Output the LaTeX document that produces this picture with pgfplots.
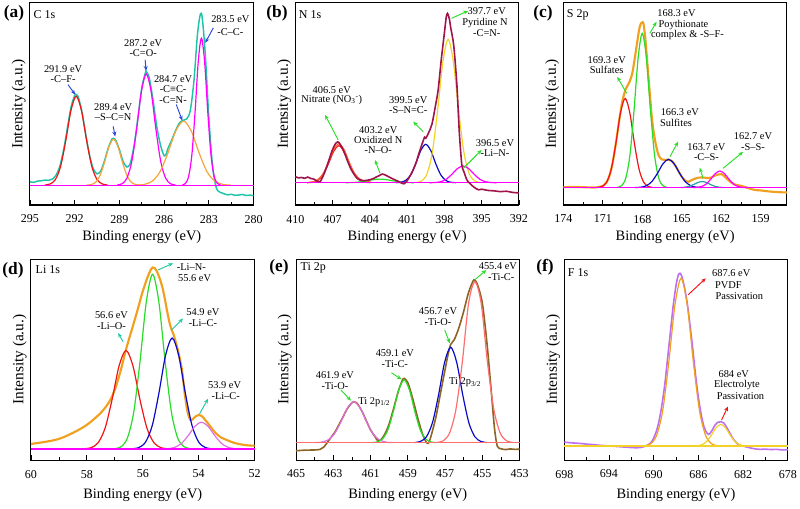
\documentclass[border=0pt]{standalone}
\usepackage{fontspec}
\setmainfont{Liberation Serif}
\usepackage{pgfplots}
\pgfplotsset{compat=1.18}
\usetikzlibrary{arrows.meta}
\definecolor{cteal}{RGB}{30,196,168}
\definecolor{cred}{RGB}{240,20,20}
\definecolor{corange}{RGB}{245,165,60}
\definecolor{cmag}{RGB}{255,0,255}
\definecolor{cblueA}{RGB}{40,70,220}
\definecolor{cmaroon}{RGB}{160,20,75}
\definecolor{cgreen}{RGB}{40,220,40}
\definecolor{cblue}{RGB}{10,10,200}
\definecolor{cyellow}{RGB}{240,210,40}
\definecolor{corange2}{RGB}{240,160,30}
\definecolor{cteal2}{RGB}{40,160,160}
\definecolor{cviolet}{RGB}{225,110,225}
\definecolor{cbrown}{RGB}{140,100,35}
\definecolor{csalmon}{RGB}{255,110,110}
\definecolor{cpurple}{RGB}{190,110,240}
\definecolor{carrD}{RGB}{30,200,160}
\definecolor{cnred}{RGB}{255,96,48}
\tikzset{
  ann/.style={font=\fontsize{7.8}{9}\selectfont, inner sep=0pt},
  annw/.style={ann, anchor=west},
  arr/.style={-{Stealth[length=3.6pt,width=3pt]}, line width=0.7pt},
  plab/.style={font=\bfseries\fontsize{13}{14}\selectfont, inner sep=0pt},
  elab/.style={font=\fontsize{9}{10}\selectfont, inner sep=0pt, anchor=west},
}
\pgfplotsset{
  xps/.style={
    scale only axis, width=167.7pt, clip=false,
    x dir=reverse, ymin=0, ymax=100, ytick=\empty,
    xtick pos=left, tick align=inside,
    minor x tick num=1,
    major tick length=3.6pt, minor tick length=2.2pt,
    every tick/.style={black, line width=0.6pt},
    axis line style={line width=0.75pt},
    xticklabel style={font=\fontsize{9}{10}\selectfont, yshift=-4pt},
    /pgf/number format/assume math mode=true,
    xlabel={Binding energy (eV)}, ylabel={Intensity (a.u.)},
    xlabel style={font=\fontsize{10.8}{12}\selectfont, at={(rel axis cs:0.5,-0.158)}, anchor=center},
    ylabel style={font=\fontsize{11.5}{12}\selectfont, at={(rel axis cs:-0.05,0.5)}, anchor=center},
    every axis plot/.append style={line width=0.9pt, smooth, no markers},
  },
  toprow/.style={height=151.7pt},
  botrow/.style={height=150.75pt, xlabel style={at={(rel axis cs:0.5,-0.174)}}},
}
\begin{document}
\begin{tikzpicture}
\useasboundingbox (0,0) rectangle (600pt,381pt);

% ---------------- (a) C 1s
\begin{axis}[xps, toprow, at={(22.5pt,227.25pt)}, anchor=south west,
  xmin=280, xmax=295, xtick={280,283,...,295}]
\addplot[cteal, line width=1.1pt] coordinates {(295,11.5)(294.75,11.2)(294.5,11.8)(294.25,12.0)(294,12.3)(293.75,12.2)(293.5,12.8)(293.25,14.8)(293,19.2)(292.75,27.1)(292.5,37.7)(292.25,48.3)(292,54.2)(291.9,54.6)(291.75,53.2)(291.5,45.4)(291.25,34.5)(291,24.5)(290.75,17.8)(290.5,15.4)(290.25,16.9)(290,21.9)(289.75,28.2)(289.5,32.6)(289.4,33)(289.25,32)(289,27.3)(288.75,21.4)(288.5,18.8)(288.35,19.5)(288.25,21.1)(288,30.1)(287.75,43.8)(287.5,58)(287.25,65.6)(287.2,66)(287,62.9)(286.75,52)(286.5,39)(286.25,29.8)(286,24.3)(285.85,25.5)(285.75,27.9)(285.5,32)(285.25,36.5)(285,40.3)(284.75,41.9)(284.5,42.5)(284.25,46.6)(284,61.5)(283.75,85.5)(283.5,94.8)(283.25,75.5)(283,42.8)(282.75,19)(282.5,8.5)(282.25,6.3)(282,5.6)(281.75,5.0)(281.5,5.3)(281.25,4.8)(281,4.9)(280.75,5.2)(280.5,4.7)(280.25,4.9)(280,4.6)};
\addplot[cred] coordinates {(294.0,9.9)(293.65,10.4)(293.3,12.55)(292.95,19.0)(292.6,31.8)(292.25,46.8)(291.9,53.8)(291.55,46.8)(291.2,31.8)(290.85,19.0)(290.5,12.55)(290.15,10.4)(289.8,9.9)};
\addplot[corange] coordinates {(291.2,9.85)(290.9,10.1)(290.6,11.2)(290.3,14.6)(290.0,21.15)(289.7,28.9)(289.4,32.5)(289.1,28.9)(288.8,21.15)(288.5,14.6)(288.2,11.2)(287.9,10.1)(287.6,9.85)};
\addplot[cmag] coordinates {(289.15,9.9)(288.825,10.5)(288.5,13.25)(288.175,21.35)(287.85,37.3)(287.525,56.1)(287.2,64.8)(286.875,56.1)(286.55,37.3)(286.225,21.35)(285.9,13.25)(285.575,10.5)(285.25,9.9)};
\addplot[corange] coordinates {(287.85,9.85)(287.325,10.2)(286.8,11.8)(286.275,16.45)(285.75,25.65)(285.225,36.5)(284.7,41.5)(284.175,36.5)(283.65,25.65)(283.125,16.45)(282.6,11.8)(282.075,10.2)(281.55,9.85)};
\addplot[cmag] coordinates {(284.775,9.95)(284.5625,10.75)(284.35,14.35)(284.1375,25.1)(283.925,46.15)(283.7125,70.9)(283.5,82.5)(283.2875,70.9)(283.075,46.15)(282.8625,25.1)(282.65,14.35)(282.4375,10.75)(282.225,9.95)};
\addplot[cmag, line width=1pt] coordinates {(295,9.8)(280,9.8)};
\node[elab] at (rel axis cs:0.015,0.94) {C 1s};
\node[ann] at (rel axis cs:0.148,0.674) {291.9 eV};
\node[ann] at (rel axis cs:0.148,0.620) {-C–F-};
\draw[arr, cblueA] (rel axis cs:0.170,0.595) -- (rel axis cs:0.202,0.546);
\node[ann] at (rel axis cs:0.372,0.482) {289.4 eV};
\node[ann] at (rel axis cs:0.372,0.433) {–S–C=N};
\draw[arr, cblueA] (rel axis cs:0.372,0.389) -- (rel axis cs:0.381,0.339);
\node[ann] at (rel axis cs:0.506,0.802) {287.2 eV};
\node[ann] at (rel axis cs:0.506,0.753) {-C=O-};
\draw[arr, cblueA] (rel axis cs:0.515,0.718) -- (rel axis cs:0.519,0.664);
\node[ann] at (rel axis cs:0.640,0.620) {284.7 eV};
\node[ann] at (rel axis cs:0.640,0.571) {-C≡C-};
\node[ann] at (rel axis cs:0.640,0.521) {-C=N-};
\draw[arr, cblueA] (rel axis cs:0.654,0.497) -- (rel axis cs:0.681,0.418);
\node[ann] at (rel axis cs:0.896,0.920) {283.5 eV};
\node[ann] at (rel axis cs:0.896,0.856) {-C–C-};
\draw[arr, cblueA] (rel axis cs:0.820,0.876) -- (rel axis cs:0.784,0.802);
\end{axis}

% ---------------- (b) N 1s
\begin{axis}[xps, toprow, at={(221.5pt,227.25pt)}, anchor=south west,
  xmin=392, xmax=410, xtick={392,395,...,410}]
\addplot[cred] coordinates {(409.05,11.04)(408.625,11.24)(408.2,12.14)(407.775,14.85)(407.35,20.15)(406.925,26.4)(406.5,29.3)(406.075,26.4)(405.65,20.15)(405.225,14.85)(404.8,12.14)(404.375,11.24)(403.95,11.04)};
\addplot[cnred] coordinates {(409.05,11.1)(408.625,11.4)(408.2,12.5)(407.775,15.4)(407.35,20.9)(406.925,27.3)(406.5,30.3)(406.075,27.4)(405.65,21.0)(405.225,15.6)(404.8,12.8)(404.375,11.8)(403.95,11.5)};
\addplot[cgreen] coordinates {(405.95,11.02)(405.4,11.11)(404.85,11.38)(404.3,11.9)(403.75,12.51)(403.2,12.8)(402.65,12.51)(402.1,11.9)(401.55,11.38)(401.0,11.11)(400.45,11.02)};
\addplot[cblue] coordinates {(401.9,11.04)(401.5,11.25)(401.1,12.19)(400.7,15)(400.3,20.5)(399.9,27)(399.5,30)(399.1,27)(398.7,20.5)(398.3,15)(397.9,12.19)(397.5,11.25)(397.1,11.04)};
\addplot[cyellow] coordinates {(400.25,11.14)(399.825,11.93)(399.4,15.43)(398.975,25.9)(398.55,46.45)(398.125,70.6)(397.7,81.9)(397.275,70.6)(396.85,46.45)(396.425,25.9)(396.0,15.43)(395.575,11.93)(395.15,11.14)};
\addplot[cmag] coordinates {(399.2,11.02)(398.75,11.11)(398.3,11.52)(397.85,12.74)(397.4,15.15)(396.95,18.0)(396.5,19.3)(396.05,18.0)(395.6,15.15)(395.15,12.74)(394.7,11.52)(394.25,11.11)(393.8,11.02)};
\addplot[cmag, line width=1pt] coordinates {(410,11)(392,11)};
\addplot[cmaroon, line width=1.2pt, tension=0.4] coordinates {(410,14.0)(409.75,13.4)(409.5,13.6)(409.25,13.2)(409,13.8)(408.75,13.1)(408.5,12.8)(408.25,11.8)(408,11.6)(407.75,14.5)(407.5,18.5)(407.25,23)(407,27.5)(406.75,30.5)(406.6,31.2)(406.5,31)(406.25,28.5)(406,25)(405.75,21)(405.5,17.5)(405.25,15)(405,13)(404.75,12.3)(404.5,12.0)(404.25,12.2)(404,12.5)(403.75,13.0)(403.5,13.8)(403.25,14.5)(403,15.3)(402.75,14.8)(402.5,14.0)(402.25,13.2)(402,12.5)(401.75,11.8)(401.5,11.0)(401.25,10.5)(401,12)(400.75,14.5)(400.5,17.6)(400.25,21.5)(400,26.5)(399.75,31)(399.6,33.5)(399.5,33)(399.25,36)(399,40)(398.75,48)(398.5,57)(398.25,72)(398,85)(397.85,93)(397.75,94.7)(397.6,92)(397.5,88)(397.25,79)(397,60)(396.8,36)(396.6,20)(396.4,16)(396.2,12.5)(396,11)(395.75,9.5)(395.5,8.3)(395.25,7.5)(395,7.8)(394.5,7.2)(394,7.0)(393.5,6.6)(393,6.8)(392.5,6.2)(392,6.0)};
\node[elab] at (rel axis cs:0.015,0.94) {N 1s};
\node[ann] at (rel axis cs:0.856,0.956) {397.7 eV};
\node[ann] at (rel axis cs:0.848,0.898) {Pyridine N};
\node[ann] at (rel axis cs:0.856,0.849) {-C=N-};
\draw[arr, cgreen] (rel axis cs:0.699,0.923) -- (rel axis cs:0.773,0.960);
\node[ann] at (rel axis cs:0.163,0.568) {406.5 eV};
\node[ann] at (rel axis cs:0.163,0.519) {Nitrate (NO\textsubscript{3}\textsuperscript{-})};
\draw[arr, cgreen] (rel axis cs:0.192,0.321) -- (rel axis cs:0.133,0.445);
\node[ann] at (rel axis cs:0.371,0.371) {403.2 eV};
\node[ann] at (rel axis cs:0.371,0.321) {Oxidized N};
\node[ann] at (rel axis cs:0.371,0.272) {-N–O-};
\draw[arr, cgreen] (rel axis cs:0.379,0.157) -- (rel axis cs:0.356,0.222);
\node[ann] at (rel axis cs:0.505,0.519) {399.5 eV};
\node[ann] at (rel axis cs:0.505,0.470) {-S–N=C-};
\draw[arr, cgreen] (rel axis cs:0.572,0.362) -- (rel axis cs:0.527,0.412);
\node[ann] at (rel axis cs:0.893,0.305) {396.5 eV};
\node[ann] at (rel axis cs:0.893,0.256) {-Li–N-};
\draw[arr, cgreen] (rel axis cs:0.751,0.181) -- (rel axis cs:0.833,0.272);
\end{axis}

% ---------------- (c) S 2p
\begin{axis}[xps, toprow, at={(422.5pt,227.25pt)}, anchor=south west,
  xmin=157, xmax=174, xtick={159,162,...,174}]
\addplot[corange2, line width=1.6pt] coordinates {(174,8.8)(173.5,8.9)(173,8.9)(172.5,8.8)(172,8.7)(171.5,8.7)(171,9.4)(170.75,10.9)(170.5,14.3)(170.25,20.9)(170,30.7)(169.75,42)(169.5,51.7)(169.25,57.4)(169,60.4)(168.75,65.4)(168.5,75.5)(168.25,86.2)(168.1,89.8)(168,90.3)(167.9,89.5)(167.75,81)(167.5,61)(167.25,42)(167,31)(166.75,24.5)(166.5,22.5)(166.25,22.3)(166,22.4)(165.75,21.8)(165.5,19.6)(165.25,16.8)(165,14)(164.75,12.2)(164.5,11.5)(164.25,12.3)(164,13)(163.75,13.5)(163.5,13.6)(163.25,13.5)(163,13.3)(162.75,13.6)(162.5,14.5)(162.25,15)(162,15.3)(161.75,14.2)(161.5,12.6)(161.25,11.2)(161,10.2)(160.5,9.5)(160,8.5)(159.5,7.5)(159,7.2)(158.5,6.8)(158,6.5)(157.5,6.3)(157,6.2)};
\addplot[cred] coordinates {(171.4,8.69)(171.05,9.18)(170.7,11.36)(170.35,17.9)(170.0,30.65)(169.65,45.7)(169.3,52.7)(168.95,45.7)(168.6,30.65)(168.25,17.9)(167.9,11.36)(167.55,9.18)(167.2,8.69)};
\addplot[cgreen] coordinates {(169.875,8.75)(169.5625,9.6)(169.25,13.37)(168.9375,24.62)(168.625,46.75)(168.3125,72.77)(168.0,84.9)(167.6875,72.77)(167.375,46.75)(167.0625,24.62)(166.75,13.37)(166.4375,9.6)(166.125,8.75)};
\addplot[cblue] coordinates {(168.55,8.63)(168.125,8.78)(167.7,9.48)(167.275,11.54)(166.85,15.6)(166.425,20.37)(166.0,22.6)(165.575,20.37)(165.15,15.6)(164.725,11.54)(164.3,9.48)(163.875,8.78)(163.45,8.63)};
\addplot[cteal2] coordinates {(165.075,8.64)(164.75,8.79)(164.425,9.23)(164.1,10.1)(163.775,11.12)(163.45,11.6)(163.125,11.12)(162.8,10.1)(162.475,9.23)(162.15,8.79)(161.825,8.64)};
\addplot[cmag] coordinates {(164.2,8.62)(163.85,8.71)(163.5,9.11)(163.15,10.32)(162.8,12.7)(162.45,15.5)(162.1,16.8)(161.75,15.5)(161.4,12.7)(161.05,10.32)(160.7,9.11)(160.35,8.71)(160.0,8.62)};
\addplot[cmag, line width=1pt] coordinates {(174,8.6)(157,8.6)};
\node[elab] at (rel axis cs:0.015,0.94) {S 2p};
\node[ann] at (rel axis cs:0.506,0.948) {168.3 eV};
\node[ann] at (rel axis cs:0.537,0.890) {Poythionate};
\node[ann] at (rel axis cs:0.555,0.840) {complex \& -S–F-};
\draw[arr, cgreen] (rel axis cs:0.387,0.849) -- (rel axis cs:0.417,0.906);
\node[ann] at (rel axis cs:0.194,0.717) {169.3 eV};
\node[ann] at (rel axis cs:0.194,0.667) {Sulfates};
\draw[arr, cgreen] (rel axis cs:0.283,0.552) -- (rel axis cs:0.241,0.634);
\node[ann] at (rel axis cs:0.521,0.461) {166.3 eV};
\node[ann] at (rel axis cs:0.504,0.407) {Sulfites};
\draw[arr, cgreen] (rel axis cs:0.477,0.239) -- (rel axis cs:0.513,0.313);
\node[ann] at (rel axis cs:0.640,0.288) {163.7 eV};
\node[ann] at (rel axis cs:0.640,0.239) {-C–S-};
\draw[arr, cgreen] (rel axis cs:0.625,0.132) -- (rel axis cs:0.610,0.184);
\node[ann] at (rel axis cs:0.848,0.341) {162.7 eV};
\node[ann] at (rel axis cs:0.848,0.288) {-S–S-};
\draw[arr, cgreen] (rel axis cs:0.714,0.181) -- (rel axis cs:0.804,0.263);
\end{axis}

% ---------------- (d) Li 1s
\begin{axis}[xps, botrow, at={(23.25pt,36pt)}, anchor=south west,
  xmin=52, xmax=60, xtick={52,54,...,60}]
\addplot[corange2, line width=1.6pt] coordinates {(60,8.0)(59.5,9.0)(59,10.5)(58.5,13.5)(58,17.5)(57.5,23.5)(57.2,29)(57,35)(56.8,44)(56.6,55)(56.4,64.5)(56.2,74)(56,84)(55.8,92)(55.65,95.8)(55.5,94)(55.3,86)(55.1,72)(55.0,66)(54.9,62.5)(54.75,55)(54.6,45)(54.5,33)(54.4,24)(54.3,20)(54.2,20.5)(54.1,21.8)(54.0,22.4)(53.9,22)(53.8,20.5)(53.6,17)(53.4,13.5)(53.2,11.2)(53,10)(52.75,8.6)(52.5,7.8)(52.25,7.3)(52,7.1)};
\addplot[cred] coordinates {(58.1,5.6)(57.85,6.14)(57.6,8.56)(57.35,15.8)(57.1,30)(56.85,46.7)(56.6,54.5)(56.35,46.7)(56.1,30)(55.85,15.8)(55.6,8.56)(55.35,6.14)(55.1,5.6)};
\addplot[cgreen] coordinates {(57.0,5.67)(56.775,6.64)(56.55,10.93)(56.325,23.75)(56.1,48.95)(55.875,78.6)(55.65,92.4)(55.425,78.6)(55.2,48.95)(54.975,23.75)(54.75,10.93)(54.525,6.64)(54.3,5.67)};
\addplot[cblue] coordinates {(56.375,5.61)(56.1375,6.22)(55.9,8.95)(55.6625,17.1)(55.425,33.1)(55.1875,51.9)(54.95,60.7)(54.7125,51.9)(54.475,33.1)(54.2375,17.1)(54.0,8.95)(53.7625,6.22)(53.525,5.61)};
\addplot[cviolet] coordinates {(55.325,5.53)(55.0875,5.67)(54.85,6.33)(54.6125,8.29)(54.375,12.15)(54.1375,16.7)(53.9,18.8)(53.6625,16.7)(53.425,12.15)(53.1875,8.29)(52.95,6.33)(52.7125,5.67)(52.475,5.53)};
\addplot[cmag, line width=1pt] coordinates {(60,5.5)(52,5.5)};
\node[elab] at (rel axis cs:0.02,0.945) {Li 1s};
\node[ann] at (rel axis cs:0.717,0.962) {-Li–N-};
\node[ann] at (rel axis cs:0.732,0.904) {55.6 eV};
\draw[arr, carrD] (rel axis cs:0.568,0.945) -- (rel axis cs:0.635,0.979);
\node[ann] at (rel axis cs:0.360,0.721) {56.6 eV};
\node[ann] at (rel axis cs:0.360,0.666) {-Li–O-};
\draw[arr, carrD] (rel axis cs:0.412,0.588) -- (rel axis cs:0.390,0.632);
\node[ann] at (rel axis cs:0.769,0.737) {54.9 eV};
\node[ann] at (rel axis cs:0.769,0.682) {-Li–C-};
\draw[arr, carrD] (rel axis cs:0.628,0.646) -- (rel axis cs:0.680,0.704);
\node[ann] at (rel axis cs:0.866,0.372) {53.9 eV};
\node[ann] at (rel axis cs:0.871,0.317) {-Li–C-};
\draw[arr, carrD] (rel axis cs:0.754,0.230) -- (rel axis cs:0.792,0.305);
\end{axis}

% ---------------- (e) Ti 2p
\begin{axis}[xps, botrow, at={(222pt,36pt)}, anchor=south west,
  xmin=453, xmax=465, xtick={453,455,...,465}]
\addplot[cbrown, line width=1.2pt] coordinates {(465,4.6)(464.5,4.9)(464,5.0)(463.7,5.3)(463.5,6.5)(463.3,9)(463.1,11.5)(462.9,14)(462.7,17.5)(462.5,21)(462.25,25.5)(462,28.5)(461.9,29)(461.75,28.5)(461.5,25)(461.25,20)(461,15)(460.75,11.5)(460.6,9.5)(460.4,10.5)(460.2,13.5)(460,18)(459.75,26)(459.5,34.5)(459.3,39.5)(459.2,40.6)(459,38.5)(458.75,31)(458.5,22)(458.25,14)(458.05,9.5)(457.9,8.3)(457.75,12)(457.5,21)(457.25,33)(457,45)(456.85,52)(456.7,57.5)(456.5,60)(456.25,66)(456,74)(455.75,83)(455.5,89)(455.4,89.5)(455.25,87)(455,78)(454.75,58)(454.5,32)(454.35,16)(454.2,7)(454,5.6)(453.75,5.2)(453.5,5.5)(453.25,5.3)(453,5.4)};
\addplot[cviolet] coordinates {(464.0,8.64)(463.65,8.87)(463.3,9.88)(462.95,12.88)(462.6,18.8)(462.25,25.76)(461.9,29)(461.55,25.76)(461.2,18.8)(460.85,12.88)(460.5,9.88)(460.15,8.87)(459.8,8.64)};
\addplot[cgreen] coordinates {(460.925,8.66)(460.6375,9.01)(460.35,10.55)(460.0625,15.15)(459.775,24.2)(459.4875,34.84)(459.2,39.8)(458.9125,34.84)(458.625,24.2)(458.3375,15.15)(458.05,10.55)(457.7625,9.01)(457.475,8.66)};
\addplot[cblue] coordinates {(458.65,8.7)(458.325,9.22)(458.0,11.57)(457.675,18.6)(457.35,32.35)(457.025,48.55)(456.7,56.1)(456.375,48.55)(456.05,32.35)(455.725,18.6)(455.4,11.57)(455.075,9.22)(454.75,8.7)};
\addplot[csalmon] coordinates {(457.425,8.76)(457.0875,9.65)(456.75,13.6)(456.4125,25.42)(456.075,48.65)(455.7375,77.96)(455.4,88.7)(455.0625,77.96)(454.725,48.65)(454.3875,25.42)(454.05,13.6)(453.7125,9.65)(453.375,8.76)};
\addplot[csalmon, line width=1pt] coordinates {(465,8.6)(453,8.6)};
\node[elab] at (rel axis cs:0.02,0.955) {Ti 2p};
\node[ann] at (rel axis cs:0.903,0.965) {455.4 eV};
\node[ann] at (rel axis cs:0.918,0.912) {-Ti-C-};
\draw[arr, cgreen] (rel axis cs:0.799,0.896) -- (rel axis cs:0.851,0.945);
\node[ann] at (rel axis cs:0.635,0.741) {456.7 eV};
\node[ann] at (rel axis cs:0.635,0.688) {-Ti-O-};
\draw[arr, cgreen] (rel axis cs:0.665,0.647) -- (rel axis cs:0.688,0.581);
\node[ann] at (rel axis cs:0.442,0.531) {459.1 eV};
\node[ann] at (rel axis cs:0.442,0.476) {-Ti-C-};
\draw[arr, cgreen] (rel axis cs:0.427,0.434) -- (rel axis cs:0.472,0.401);
\node[ann] at (rel axis cs:0.174,0.423) {461.9 eV};
\node[ann] at (rel axis cs:0.174,0.368) {-Ti-O-};
\draw[arr, cgreen] (rel axis cs:0.201,0.348) -- (rel axis cs:0.246,0.295);
\node[annw] at (rel axis cs:0.278,0.290) {Ti 2p\textsubscript{1/2}};
\node[annw] at (rel axis cs:0.684,0.385) {Ti 2p\textsubscript{3/2}};
\end{axis}

% ---------------- (f) F 1s
\begin{axis}[xps, botrow, at={(423.2pt,36pt)}, anchor=south west,
  xmin=678, xmax=698, xtick={678,682,...,698}]
\addplot[cpurple, line width=1.2pt] coordinates {(698,8.9)(697.5,8.6)(697,8.4)(696.5,8.2)(696,7.9)(695.5,7.7)(695,7.4)(694.5,7.2)(694,7.0)(693.5,6.8)(693,6.6)(692.5,6.4)(692,6.2)(691.5,6.1)(691,6.4)(690.5,7.5)(690.2,9)(690,11)(689.75,14.5)(689.5,20)(689.25,28)(689,38)(688.75,51)(688.5,64)(688.25,77)(688,87)(687.8,92)(687.65,92.9)(687.5,91.5)(687.25,86)(687,78)(686.75,67)(686.5,55)(686.25,42)(686,31)(685.75,22.5)(685.5,16.5)(685.25,13.5)(685.1,12.7)(685,13)(684.75,15)(684.5,17.5)(684.25,18.8)(684,19)(683.75,18.5)(683.5,16.5)(683.25,14)(683,11.5)(682.75,9.5)(682.5,8)(682.25,7.2)(682,6.9)(681.5,6.2)(681,5.6)(680.5,5.3)(680,5.4)(679.5,5.2)(679,5.3)(678.5,5.0)(678,5.2)};
\addplot[corange2] coordinates {(690.85,7.07)(690.3,8.0)(689.75,12.12)(689.2,24.4)(688.65,48.65)(688.1,77.1)(687.55,90.4)(687.0,77.1)(686.45,48.65)(685.9,24.4)(685.35,12.12)(684.8,8.0)(684.25,7.07)};
\addplot[cyellow] coordinates {(686.55,6.92)(686.125,7.04)(685.7,7.58)(685.275,9.17)(684.85,12.3)(684.425,16.0)(684.0,17.7)(683.575,16.0)(683.15,12.3)(682.725,9.17)(682.3,7.58)(681.875,7.04)(681.45,6.92)};
\addplot[cyellow, line width=1pt] coordinates {(698,6.9)(678,6.9)};
\node[elab] at (rel axis cs:0.015,0.93) {F 1s};
\node[ann] at (rel axis cs:0.747,0.932) {687.6 eV};
\node[annw] at (rel axis cs:0.673,0.871) {PVDF};
\node[annw] at (rel axis cs:0.676,0.813) {Passivation};
\draw[arr, cred] (rel axis cs:0.554,0.822) -- (rel axis cs:0.633,0.904);
\node[ann] at (rel axis cs:0.758,0.426) {684 eV};
\node[ann] at (rel axis cs:0.772,0.371) {Electrolyte};
\node[ann] at (rel axis cs:0.788,0.316) {Passivation};
\draw[arr, cred] (rel axis cs:0.703,0.198) -- (rel axis cs:0.732,0.266);
\end{axis}

\node[plab] at (10.5pt,371.25pt) {(a)};
\node[plab] at (207.75pt,371.25pt) {(b)};
\node[plab] at (407.25pt,371.25pt) {(c)};
\node[plab] at (9.75pt,178.5pt) {(d)};
\node[plab] at (209.25pt,180.75pt) {(e)};
\node[plab] at (408.75pt,180.75pt) {(f)};
\end{tikzpicture}
\end{document}
